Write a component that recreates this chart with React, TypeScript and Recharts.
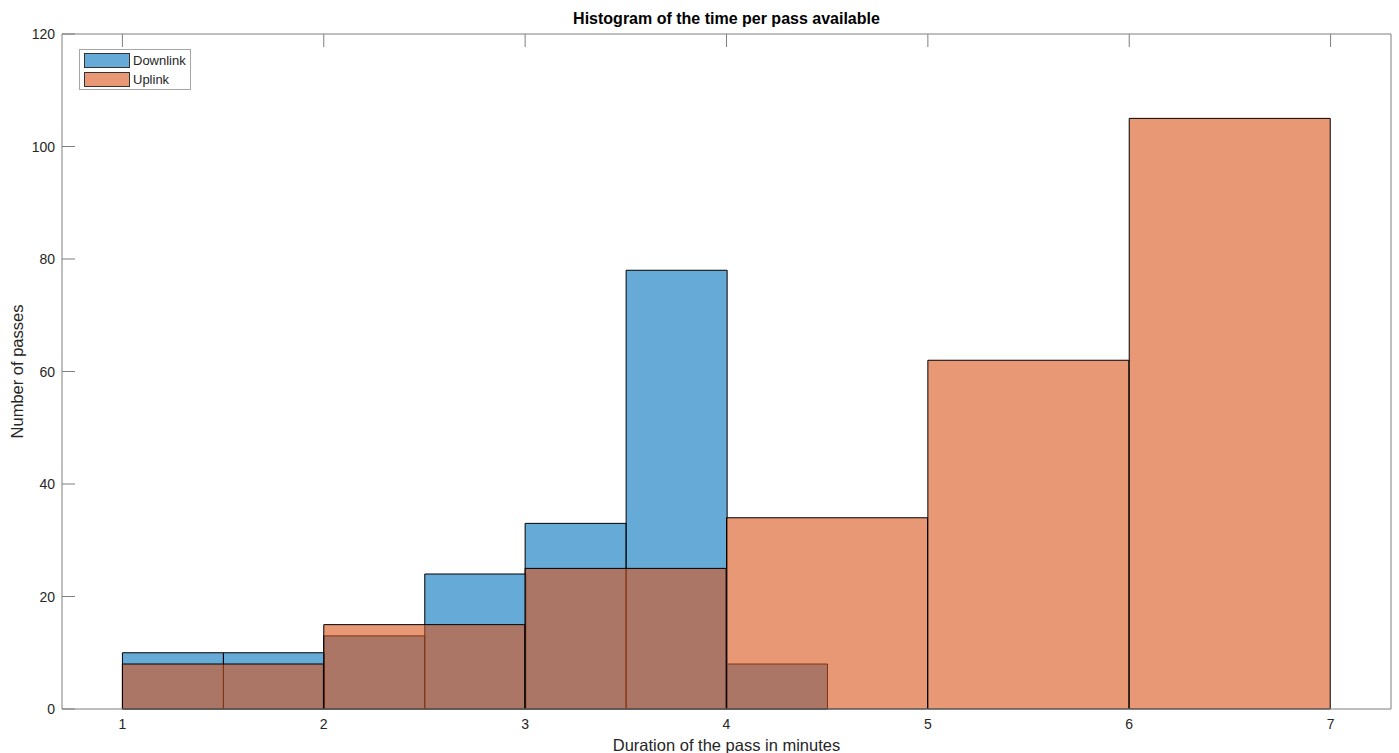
import { ComposedChart, Bar, XAxis, YAxis, Legend } from 'recharts'

// histogram counts
// uplink uses 1-minute bins, downlink uses half-minute bins
const uplinkBins = ['1-2', '2-3', '3-4', '4-5', '5-6', '6-7']
const binStarts = [1, 2, 3, 4, 5, 6]
const uplinkCounts = [8, 15, 25, 34, 62, 105]
const downlinkCounts = [10, 10, 13, 24, 33, 78, 8, 0, 0, 0, 0, 0] // 1-1.5, 1.5-2, ... 6.5-7
const xTicks = [1, 2, 3, 4, 5, 6, 7]
const yTicks = [0, 20, 40, 60, 80, 100, 120]

// one row per 1-minute bin; the two downlink halves sit side by side inside it
const data = uplinkBins.map((bin, i) => ({
  bin,
  start: binStarts[i],
  uplink: uplinkCounts[i],
  downFirst: downlinkCounts[2 * i],
  downSecond: downlinkCounts[2 * i + 1],
}))

const FONT = '"Liberation Sans", Arial, sans-serif'
const AXIS = '#7f7f7f'
const TEXT = '#262626'
const TICK_LEN = 13
// plot is 1329px wide, x limits 0.7..7.3 -> 0.3 units of padding each side
const X_PAD = (1329 * 0.3) / 6.6

// matlab style ticks: marks point into the plot
const LeftTick = (p: any) => (
  <g>
    <line x1={p.x + 7} x2={p.x + 7 + TICK_LEN} y1={p.y} y2={p.y} stroke={AXIS} />
    <text x={p.x} y={p.y} textAnchor="end" dominantBaseline="central" fill={TEXT} fontSize={14} fontFamily={FONT}>
      {p.payload.value}
    </text>
  </g>
)

// bottom tick marks sit on the bar edges and are hidden by them in the figure
const BottomTick = (p: any) => (
  <text x={p.x} y={p.y + 10} textAnchor="middle" fill={TEXT} fontSize={14} fontFamily={FONT}>
    {p.payload.value}
  </text>
)

const TopTick = (p: any) => <line x1={p.x} x2={p.x} y1={p.y} y2={p.y + TICK_LEN} stroke={AXIS} />

const RightTick = (p: any) => <line x1={p.x} x2={p.x - TICK_LEN} y1={p.y} y2={p.y} stroke={AXIS} />

const renderLegend = (props: any) => {
  const seen = new Set<string>()
  const items = (props.payload || []).filter((e: any) => {
    if (e.type === 'none' || seen.has(e.value)) return false
    seen.add(e.value)
    return true
  })
  return (
    <div
      style={{
        border: '1px solid #a6a6a6',
        background: '#fff',
        width: 110,
        height: 38,
        paddingTop: 1,
        boxSizing: 'content-box',
        fontFamily: FONT,
        fontSize: 13,
        color: TEXT,
      }}
    >
      {items.map((entry: any, i: number) => (
        <div key={i} style={{ display: 'flex', alignItems: 'center', height: 19, marginLeft: 4 }}>
          <svg width={46} height={15} style={{ display: 'block' }}>
            <rect x={0.5} y={0.5} width={45} height={14} fill={entry.color} fillOpacity={0.6} stroke="#333" />
          </svg>
          <span style={{ marginLeft: 3, lineHeight: '15px' }}>{entry.value}</span>
        </div>
      ))}
    </div>
  )
}

const renderYLabel = (props: any) => {
  const vb = props.viewBox
  const cx = vb.x + 17
  const cy = vb.y + vb.height / 2
  return (
    <text
      x={cx}
      y={cy}
      transform={`rotate(-90 ${cx} ${cy})`}
      textAnchor="middle"
      dominantBaseline="central"
      fill={TEXT}
      fontSize={16.5}
      fontFamily={FONT}
    >
      Number of passes
    </text>
  )
}

export default function App() {
  return (
    <div style={{ position: 'fixed', left: 0, top: 0, background: '#fff' }}>
      <ComposedChart
        width={1399}
        height={753}
        data={data}
        margin={{ top: 0, right: 0, bottom: 0, left: 0 }}
        barCategoryGap={0}
        barGap={0}
        style={{ fontFamily: FONT }}
      >
        <XAxis
          xAxisId="x"
          dataKey="start"
          type="number"
          domain={[1, 7]}
          allowDataOverflow
          ticks={xTicks}
          padding={{ left: X_PAD, right: X_PAD }}
          height={44}
          stroke={AXIS}
          tickLine={false}
          tickSize={0}
          tickMargin={10}
          tick={BottomTick}
          label={{ value: 'Duration of the pass in minutes', position: 'insideBottom', offset: 2, fill: TEXT, fontSize: 16.5, fontFamily: FONT }}
        />
        <XAxis
          xAxisId="top"
          orientation="top"
          dataKey="start"
          type="number"
          domain={[1, 7]}
          allowDataOverflow
          ticks={xTicks}
          padding={{ left: X_PAD, right: X_PAD }}
          height={34}
          stroke={AXIS}
          tickLine={false}
          tickSize={0}
          tickMargin={0}
          tick={TopTick}
          label={{ value: 'Histogram of the time per pass available', position: 'insideTop', offset: 13, fill: '#000', fontSize: 16, fontWeight: 'bold', fontFamily: FONT }}
        />
        <XAxis xAxisId="down" dataKey="bin" type="category" hide height={0} padding={{ left: X_PAD, right: X_PAD }} />
        <XAxis xAxisId="up" dataKey="bin" type="category" hide height={0} padding={{ left: X_PAD, right: X_PAD }} />
        <YAxis
          yAxisId="left"
          domain={[0, 120]}
          ticks={yTicks}
          width={62}
          stroke={AXIS}
          tickLine={false}
          tickSize={0}
          tickMargin={7}
          tick={LeftTick}
          label={{ content: renderYLabel }}
        />
        <YAxis
          yAxisId="right"
          orientation="right"
          domain={[0, 120]}
          ticks={yTicks}
          width={8}
          stroke={AXIS}
          tickLine={false}
          tickSize={0}
          tickMargin={0}
          tick={RightTick}
        />
        <Legend
          layout="horizontal"
          verticalAlign="middle"
          align="center"
          content={renderLegend}
          wrapperStyle={{ left: 79, top: 49, width: 'auto', height: 'auto' }}
        />
        <Bar
          name="Downlink"
          dataKey="downFirst"
          xAxisId="down"
          yAxisId="left"
          fill="#0072BD"
          fillOpacity={0.6}
          stroke="#000"
          strokeWidth={1}
          isAnimationActive={false}
        />
        <Bar
          name="Downlink"
          legendType="none"
          dataKey="downSecond"
          xAxisId="down"
          yAxisId="left"
          fill="#0072BD"
          fillOpacity={0.6}
          stroke="#000"
          strokeWidth={1}
          isAnimationActive={false}
        />
        <Bar
          name="Uplink"
          dataKey="uplink"
          xAxisId="up"
          yAxisId="left"
          fill="#D95319"
          fillOpacity={0.6}
          stroke="#000"
          strokeWidth={1}
          isAnimationActive={false}
        />
      </ComposedChart>
    </div>
  )
}
